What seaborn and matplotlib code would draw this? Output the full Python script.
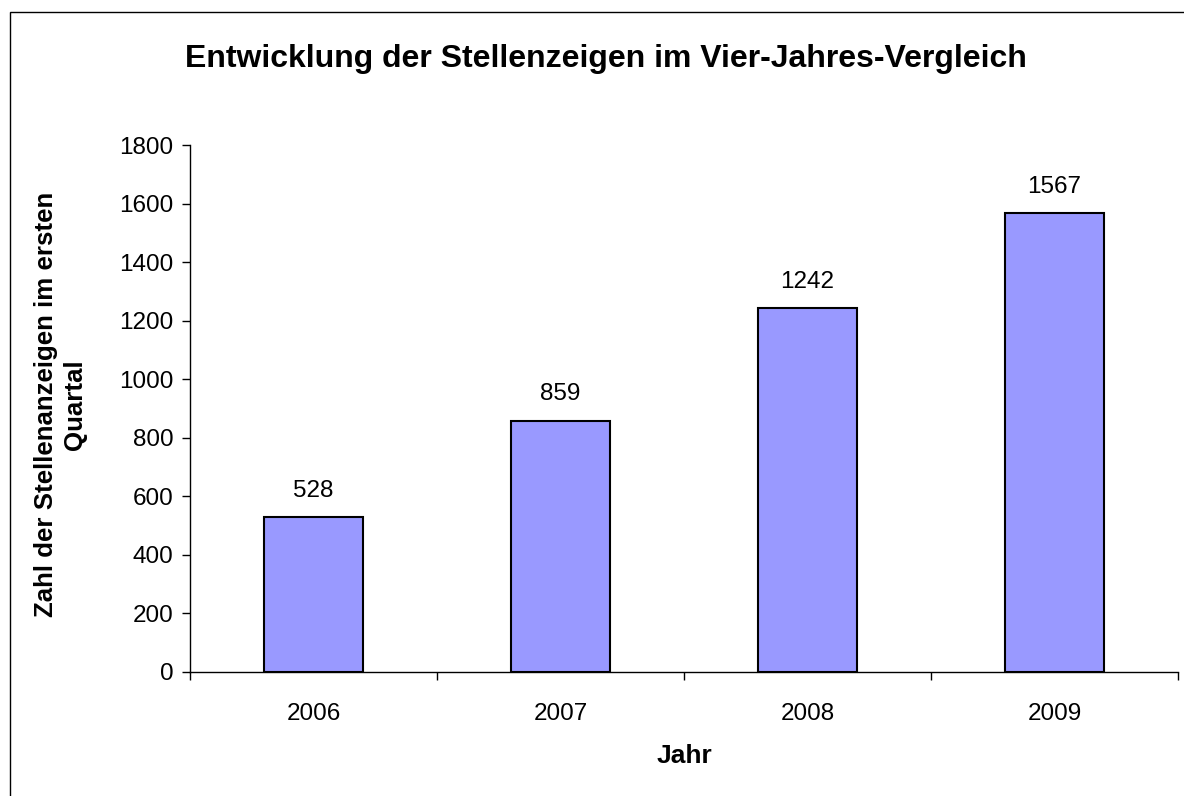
import matplotlib
matplotlib.use('Agg')
import matplotlib.pyplot as plt
import matplotlib.patches as patches
import seaborn as sns

# Data
years = ['2006', '2007', '2008', '2009']
counts = [528, 859, 1242, 1567]
y_ticks = [0, 200, 400, 600, 800, 1000, 1200, 1400, 1600, 1800]

sns.set_style('white')
plt.rcParams['font.family'] = ['Liberation Sans', 'DejaVu Sans']
plt.rcParams['text.color'] = 'black'
plt.rcParams['axes.labelcolor'] = 'black'
plt.rcParams['xtick.color'] = 'black'
plt.rcParams['ytick.color'] = 'black'

fig = plt.figure(figsize=(11.84, 7.96), dpi=100)
ax = fig.add_axes([190 / 1184, 1 - 672 / 796, 988 / 1184, 527 / 796])

sns.barplot(x=years, y=counts, color='#9999FF', edgecolor='black',
            linewidth=1.5, width=0.4, saturation=1, ax=ax)

ax.set_xlim(-0.5, 3.5)
ax.set_ylim(0, 1800)
ax.set_yticks(y_ticks)
ax.set_yticklabels([str(v) for v in y_ticks], fontsize=17.5)

# category labels centred, tick marks between categories
ax.set_xticks(range(len(years)))
ax.set_xticklabels(years, fontsize=17.5)
ax.set_xticks([i - 0.5 for i in range(len(years) + 1)], minor=True)
ax.tick_params(axis='x', which='major', bottom=True, length=0, pad=22)
ax.tick_params(axis='x', which='minor', bottom=True, length=6, width=1,
               color='black', direction='out')
ax.tick_params(axis='y', which='major', left=True, length=6, width=1,
               color='black', direction='out', pad=6)

for side in ['top', 'right']:
    ax.spines[side].set_visible(False)
for side in ['left', 'bottom']:
    ax.spines[side].set_color('black')
    ax.spines[side].set_linewidth(1)

ax.bar_label(ax.containers[0], labels=[str(v) for v in counts], padding=11, fontsize=17.5)

ax.set_xlabel('Jahr', fontsize=19, fontweight='bold', labelpad=14)
ax.set_ylabel('Zahl der Stellenanzeigen im ersten\nQuartal', fontsize=18.6,
              fontweight='bold', linespacing=1.25)
ax.yaxis.set_label_coords(-0.104, 0.507)

fig.text(0.512, 1 - 59 / 796, 'Entwicklung der Stellenzeigen im Vier-Jahres-Vergleich',
         ha='center', va='center', fontsize=23, fontweight='bold')

# outer chart-area frame
fig.patches.append(patches.Rectangle((10 / 1184, -0.1), 2, 1 - 12 / 796 + 0.1,
                                     transform=fig.transFigure, fill=False,
                                     edgecolor='black', linewidth=1))

fig.savefig('out.png', dpi=100)
